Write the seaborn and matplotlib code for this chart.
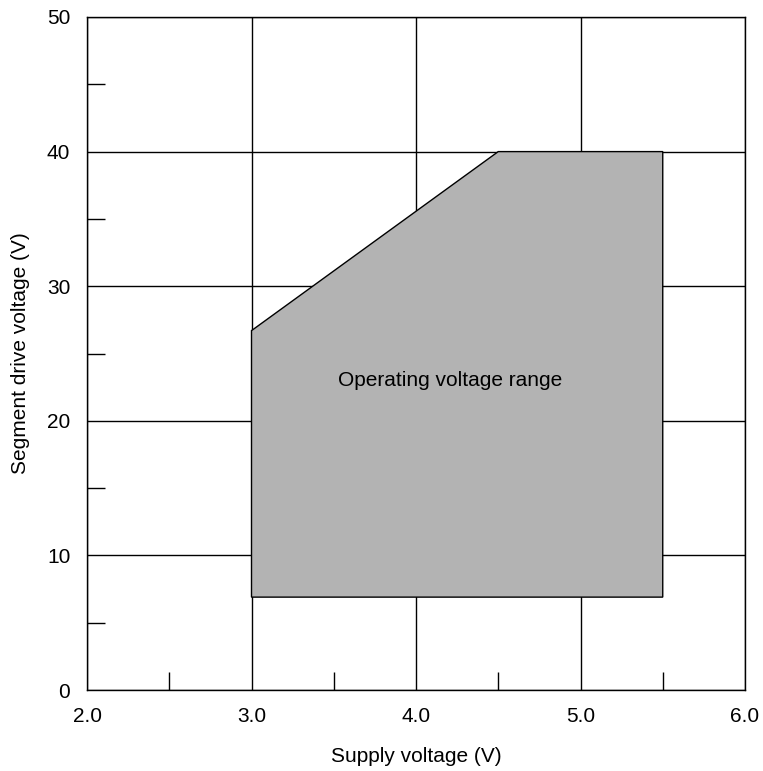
import matplotlib
matplotlib.use("Agg")
import matplotlib.pyplot as plt
import seaborn as sns
import numpy as np
from matplotlib.ticker import MultipleLocator

sns.set_theme(style="white")
plt.rcParams['font.family'] = ['Liberation Sans', 'DejaVu Sans']

# Operating region polygon (supply voltage, segment drive voltage)
region_x = [3.0, 3.0, 4.5, 5.5, 5.5]
region_y = [6.9, 26.7, 40.0, 40.0, 6.9]
region_label = "Operating voltage range"
x_ticks = [2.0, 3.0, 4.0, 5.0, 6.0]
x_tick_labels = ["2.0", "3.0", "4.0", "5.0", "6.0"]
y_ticks = [0, 10, 20, 30, 40, 50]

fig = plt.figure(figsize=(7.63, 7.71), dpi=100)
ax = fig.add_axes([87/763, 81/771, (745-87)/763, (690-17)/771])

ax.fill(region_x, region_y, facecolor="#b3b3b3", edgecolor="black", linewidth=1.0, zorder=2)
ax.text(4.21, 23.0, region_label, ha="center", va="center", fontsize=15, color="black", zorder=3)

ax.set_xlim(2.0, 6.0)
ax.set_ylim(0, 50)
ax.set_xticks(x_ticks)
ax.set_xticklabels(x_tick_labels)
ax.set_yticks(y_ticks)
ax.xaxis.set_minor_locator(MultipleLocator(0.5))
ax.yaxis.set_minor_locator(MultipleLocator(5))
ax.grid(True, which="major", color="black", linewidth=1.0, zorder=1)
ax.set_axisbelow(True)
ax.tick_params(which="major", length=0, labelsize=15, colors="black")
ax.tick_params(axis="x", which="major", pad=12)
ax.tick_params(axis="y", which="major", pad=12)
ax.tick_params(which="minor", direction="in", length=13, width=1.0, color="black",
               bottom=True, left=True, top=False, right=False)
for s in ax.spines.values():
    s.set_color("black")
    s.set_linewidth(1.0)

ax.set_xlabel("Supply voltage (V)", fontsize=15, color="black", labelpad=15)
ax.set_ylabel("Segment drive voltage (V)", fontsize=15, color="black", labelpad=12)

fig.savefig("out.png", dpi=100)
